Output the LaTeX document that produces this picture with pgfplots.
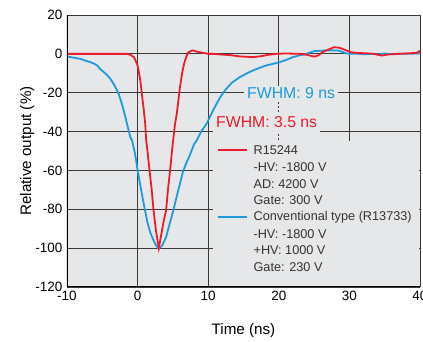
\documentclass[border=0pt]{standalone}
\usepackage{pgfplots}
\pgfplotsset{compat=1.18}
\usepackage{fontspec}
\setmainfont{Liberation Sans}
\definecolor{bggray}{HTML}{E6E7E9}
\definecolor{cred}{HTML}{EC1C2A}
\definecolor{cblue}{HTML}{1E9ADA}
\definecolor{txtgray}{HTML}{333333}
\definecolor{gridc}{HTML}{3A3A3A}
\begin{document}
\begin{tikzpicture}
\begin{axis}[
  name=ax,
  scale only axis,
  width=353pt, height=272pt,
  xmin=-10, xmax=40, ymin=-120, ymax=20,
  xtick={-10,0,...,40}, ytick={-120,-100,...,20},
  major tick length=0pt,
  grid=major,
  grid style={gridc, line width=0.9pt},
  axis line style={draw=none},
  axis background/.style={fill=bggray},
  /pgf/number format/assume math mode=true,
  ticklabel style={font=\fontsize{13.5}{15}\selectfont, text=black},
  yticklabel style={xshift=-1pt},
  xticklabel style={yshift=-1pt},
  xlabel={Time (ns)},
  ylabel={Relative output (\%)},
  label style={font=\fontsize{15.2}{17}\selectfont},
  xlabel style={at={(axis description cs:0.5,-0.16)}, anchor=center},
  ylabel style={at={(axis description cs:-0.113,0.5)}, anchor=center, rotate=0},
  clip=true,
]
\addplot[cblue, line width=1.8pt] coordinates {
(-10,-1.4) (-9,-2) (-8.07,-2.6) (-7.4,-3.5) (-6.66,-4.3) (-6.2,-5) (-5.72,-6.0) (-5.3,-7.8) (-4.79,-9.4) (-4.3,-11) (-3.85,-12.9) (-3.3,-16) (-2.68,-20.6) (-2.2,-26) (-1.73,-32.6) (-1.3,-39) (-1.03,-42.9) (-0.79,-44.6) (-0.46,-49.7) (-0.2,-55) (0,-60) (0.4,-68) (0.76,-75.1) (1.1,-81.5) (1.41,-87) (1.8,-92) (2.26,-96) (2.6,-98.5) (3.0,-100.3) (3.5,-98.5) (4.04,-94.3) (4.5,-88) (5.07,-80.5) (5.5,-74) (6.0,-66.8) (6.4,-61) (6.86,-56.5) (7.3,-53) (7.66,-49.7) (8.0,-46.5) (8.37,-44.6) (9.0,-40) (9.77,-36) (10.7,-29) (11.65,-22.6) (12.35,-18.9) (13.3,-15) (14.46,-12) (15.4,-10.2) (16.3,-8.6) (17.2,-7.3) (18.2,-6) (19.1,-5.2) (20.1,-4.3) (21,-3.2) (21.97,-1.7) (22.9,-0.8) (23.9,0) (25.0,1.4) (25.8,1.6) (26.7,1.7) (27.6,1.8) (28.5,1.7) (29.5,0.3) (30,0) (31,0.1) (32,-0.2) (33,0) (34,-0.3) (35,0.2) (36,-0.2) (37,0.1) (38,0) (39,0.1) (40,0.3)
};
\addplot[cred, line width=1.8pt] coordinates {
(-10,0) (-5,0) (-2,0) (-1.5,0) (-1,-0.5) (-0.5,-1.8) (-0.3,-3.4) (0,-6) (0.14,-8.6) (0.4,-14) (0.6,-20.6) (0.85,-28) (1.08,-36) (1.22,-44.6) (1.4,-50) (1.69,-60) (2.0,-70) (2.26,-80.5) (2.6,-91) (3.0,-100) (3.4,-92) (3.7,-86) (4.04,-80.5) (4.3,-70) (4.6,-60) (4.9,-49) (5.05,-44) (5.3,-36) (5.55,-30.8) (6.0,-17.2) (6.3,-10) (6.58,-5.1) (6.9,-1.5) (7.18,0.8) (7.6,1.6) (7.9,1.7) (8.5,1.0) (9.3,0.5) (10,0) (10.7,0) (11.6,-0.3) (13,-0.6) (14.5,-1.3) (16.3,-1.7) (17.5,-1.2) (18.5,-0.5) (19.6,0) (21,0.2) (22.9,0) (24,-0.5) (25,-1.4) (25.6,-0.8) (26.2,0.9) (27,2.2) (27.8,3.4) (28.5,3.2) (29,2.6) (29.6,1.7) (30.2,0.9) (31,0.5) (32.3,0.3) (33.5,0) (34.6,-0.9) (35.5,-0.3) (37,0) (38.5,0.3) (39.5,0.5) (40,1.5)
};
% axis frame left/bottom
\draw[black, line width=1.6pt] (rel axis cs:0,1) -- (rel axis cs:0,0) -- (rel axis cs:1,0);
% dashed look of the x=20 grid line
\draw[bggray, line width=1.5pt, dash pattern=on 2pt off 2pt] (axis cs:20,-24) -- (axis cs:20,-45);
% legend box
\fill[bggray] (axis cs:10.7,-44.6) rectangle (axis cs:39.8,-119.3);
\node[fill=bggray, inner xsep=3pt, inner ysep=2pt, text=cblue, font=\fontsize{15.8}{18}\selectfont, anchor=west] at (axis cs:15.07,-20.2) {FWHM: 9 ns};
\node[fill=bggray, inner xsep=3pt, inner ysep=3.5pt, text=cred, font=\fontsize{15.8}{18}\selectfont, anchor=west] at (axis cs:10.68,-35.3) {FWHM: 3.5 ns};
\draw[cred, line width=1.8pt] (axis cs:11.4,-49.5) -- (axis cs:15.5,-49.5);
\draw[cblue, line width=1.8pt] (axis cs:11.4,-84) -- (axis cs:15.5,-84);
\begin{scope}[every node/.style={anchor=west, inner sep=0pt, text=txtgray, font=\fontsize{12.7}{14}\selectfont}]
\node at (axis cs:16.4,-49.5) {R15244};
\node at (axis cs:16.4,-58.2) {-HV: -1800 V};
\node at (axis cs:16.4,-66.8) {AD: 4200 V};
\node at (axis cs:16.4,-75.4) {Gate: 300 V};
\node at (axis cs:16.4,-84) {Conventional type (R13733)};
\node at (axis cs:16.4,-92.6) {-HV: -1800 V};
\node at (axis cs:16.4,-101.2) {+HV: 1000 V};
\node at (axis cs:16.4,-109.8) {Gate: 230 V};
\end{scope}
\end{axis}
\pgfresetboundingbox
\path[use as bounding box] ([shift={(-67pt,-55pt)}]ax.south west) rectangle ([shift={(3pt,15pt)}]ax.north east);
\end{tikzpicture}
\end{document}
